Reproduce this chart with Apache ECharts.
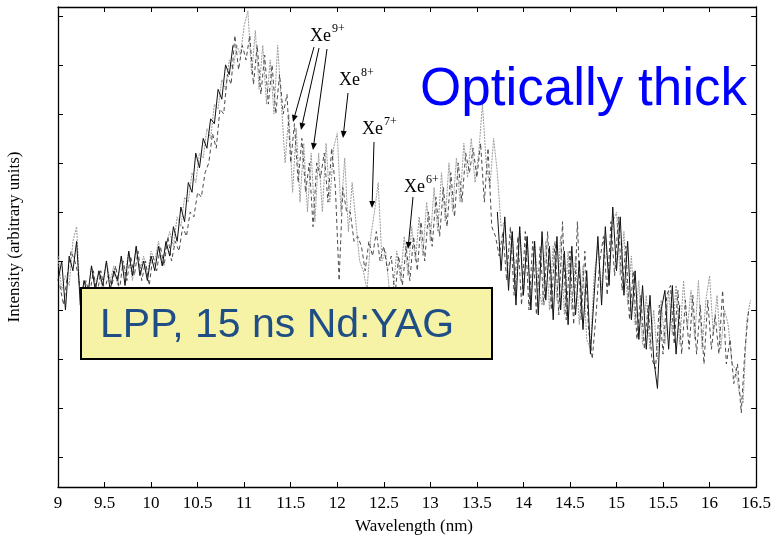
<!DOCTYPE html>
<html>
<head>
<meta charset="utf-8">
<script src="https://cdn.jsdelivr.net/npm/echarts@6/dist/echarts.min.js"></script>
<style>
  html, body { margin: 0; padding: 0; background: #fff; }
  #chart { width: 774px; height: 540px; }
</style>
</head>
<body>
<div id="chart"></div>
<script>
// Xe emission spectra, intensity in arbitrary units vs. wavelength (nm)
const WL_STEP = 0.04;

// black trace, two visible stretches
const blackStartA = 9.00;
const blackA = [
  36,40,30,41,38,44,31,36,33,39,34,38,35,40,34,38,36,41,35,42,
  37,43,37,40,36,41,38,43,39,44,41,47,44,51,48,56,54,62,59,65,
  63,69,68,75,73,80,78,84
];
const blackStartB = 13.72;
const blackB = [
  50,38,49,34,46,31,47,33,45,30,44,29,46,32,43,28,45,30,42,27,
  43,29,40,26,38,21,33,45,31,47,35,51,38,49,33,44,28,38,24,35,
  22,33,20,14,30,34,22,35,21,31
];

// dark grey dashed trace
const dashStart = 9.02;
const dashed = [
  35,31,37,42,40,37,30,36,33,38,
  33,38,34,37,35,39,34,40,36,41,
  37,42,36,40,35,41,38,43,39,45,
  40,44,42,47,45,50,49,54,53,58,
  60,66,63,71,70,78,76,86,79,84,
  81,86,76,84,74,82,72,80,70,78,
  70,74,60,68,56,65,54,60,47,60,
  57,62,52,63,55,36,55,50,50,44,
  45,43,38,44,41,46,40,43,38,41,
  33,41,35,43,36,45,38,48,40,50,
  43,53,45,55,47,58,49,60,52,62,
  58,63,57,64,52,63,47,45,41,46,
  36,47,33,45,31,46,30,44,29,43,
  31,46,30,44,29,48,28,42,27,48,
  28,42,26,20,29,40,45,33,48,37,
  49,34,43,28,38,24,33,22,31,20,
  18,31,21,33,35,23,34,21,32,22,
  33,21,31,19,32,22,29,21,34,19,
  24,15,19,9,22,30
];

// light grey trace
const grayStart = 9.00;
const gray = [
  41,34,37,35,44,47,31,36,33,39,
  35,38,34,40,36,39,35,41,37,42,
  36,43,38,41,37,42,40,44,39,43,
  46,43,49,47,53,52,58,56,62,61,
  67,65,72,71,77,75,81,79,84,82,
  88,91,78,87,75,84,72,81,70,84,
  72,60,70,54,67,52,64,50,62,48,
  62,50,64,52,63,66,50,61,46,56,
  48,40,38,34,45,50,56,40,42,34,
  34,42,36,45,37,47,40,49,41,52,
  44,55,46,58,48,60,50,61,52,64,
  57,65,56,62,72,60,55,65,58,47,
  48,36,46,34,47,33,45,32,44,35,
  31,44,30,43,32,45,29,42,30,41,
  27,39,24,22,37,43,34,45,36,48,
  50,37,46,31,41,27,36,23,33,22,
  30,20,32,23,34,25,35,23,36,26,
  34,24,36,22,32,37,25,33,22,30,
  27,19,18,13,11,28,32
];

const yTicks = [0, 10, 20, 30, 40, 50, 60, 70, 80, 90];

function pairs(start, vals) {
  return vals.map((v, i) => [Math.round((start + i * WL_STEP) * 1000) / 1000, v]);
}

const chart = echarts.init(document.getElementById('chart'), null, { renderer: 'canvas' });

const serif = '"Liberation Serif", "Times New Roman", serif';
const sans = '"Liberation Sans", Arial, sans-serif';

function traceSeries(data, color, type, z) {
  return {
    type: 'line',
    data: data,
    xAxisIndex: 0,
    yAxisIndex: 0,
    showSymbol: false,
    symbol: 'none',
    sampling: null,
    silent: true,
    z: z,
    lineStyle: { color: color, width: 1, type: type }
  };
}

// annotation arrows: [x1, y1, x2, y2] in pixels, tip at (x2, y2)
const arrows = [
  [314, 47, 293, 122],
  [319, 48, 301, 130],
  [327, 49, 313, 150],
  [348, 93, 343, 138],
  [374, 142, 372, 208],
  [413, 197, 408, 249]
];

const ionLabels = [
  { x: 310, y: 42, sup: '9+' },
  { x: 339, y: 86, sup: '8+' },
  { x: 362, y: 135, sup: '7+' },
  { x: 404, y: 193, sup: '6+' }
];

const graphics = [];
arrows.forEach(a => {
  const [x1, y1, x2, y2] = a;
  const dx = x2 - x1, dy = y2 - y1;
  const len = Math.sqrt(dx * dx + dy * dy);
  const ux = dx / len, uy = dy / len;
  const hl = 7, hw = 3;
  const bx = x2 - ux * hl, by = y2 - uy * hl;
  graphics.push({
    type: 'line', silent: true, z: 50,
    shape: { x1: x1, y1: y1, x2: bx, y2: by },
    style: { stroke: '#000', lineWidth: 1 }
  });
  graphics.push({
    type: 'polygon', silent: true, z: 50,
    shape: { points: [[x2, y2], [bx - uy * hw, by + ux * hw], [bx + uy * hw, by - ux * hw]] },
    style: { fill: '#000' }
  });
});
ionLabels.forEach(l => {
  graphics.push({
    type: 'text', silent: true, z: 50, x: l.x, y: l.y - 6,
    style: { text: 'Xe', font: '18px ' + serif, fill: '#000', align: 'left', verticalAlign: 'middle' }
  });
  graphics.push({
    type: 'text', silent: true, z: 50, x: l.x + 22, y: l.y - 13,
    style: { text: l.sup, font: '12px ' + serif, fill: '#000', align: 'left', verticalAlign: 'middle' }
  });
});

graphics.push({
  type: 'text', silent: true, z: 60, x: 420, y: 90,
  style: { text: 'Optically thick', font: '53px ' + sans, fill: '#0000ff', align: 'left', verticalAlign: 'middle' }
});
graphics.push({
  type: 'rect', silent: true, z: 60,
  shape: { x: 81, y: 288, width: 411, height: 71 },
  style: { fill: '#f6f2a6', stroke: '#000', lineWidth: 2 }
});
graphics.push({
  type: 'text', silent: true, z: 61, x: 100, y: 326,
  style: { text: 'LPP, 15 ns Nd:YAG', font: '41px ' + sans, fill: '#1f4e87', align: 'left', verticalAlign: 'middle' }
});
graphics.push({
  type: 'text', silent: true, z: 60, x: 15, y: 237, rotation: Math.PI / 2,
  style: { text: 'Intensity (arbitrary units)', font: '17px ' + serif, fill: '#000', align: 'center', verticalAlign: 'middle' }
});
graphics.push({
  type: 'text', silent: true, z: 60, x: 414, y: 527,
  style: { text: 'Wavelength (nm)', font: '17px ' + serif, fill: '#000', align: 'center', verticalAlign: 'middle' }
});

const axisLine = { show: true, onZero: false, lineStyle: { color: '#000', width: 1.3 } };

const option = {
  animation: false,
  backgroundColor: '#fff',
  grid: { left: 58, right: 15, top: 7, bottom: 53, containLabel: false },
  xAxis: [
    {
      type: 'value', position: 'bottom', min: 9, max: 16.5, interval: 0.5,
      axisLine: axisLine,
      axisTick: { show: true, inside: true, length: 5, lineStyle: { color: '#000', width: 1 } },
      axisLabel: { show: true, color: '#000', fontFamily: serif, fontSize: 17, margin: 8 },
      splitLine: { show: false }
    },
    {
      type: 'value', position: 'top', min: 9, max: 16.5, interval: 0.5,
      axisLine: axisLine,
      axisTick: { show: true, inside: true, length: 5, lineStyle: { color: '#000', width: 1 } },
      axisLabel: { show: false },
      splitLine: { show: false }
    }
  ],
  yAxis: [
    {
      type: 'value', position: 'left', min: -6.1, max: 91.8,
      axisLine: axisLine,
      axisTick: { show: true, inside: true, length: 5, customValues: yTicks, lineStyle: { color: '#000', width: 1 } },
      axisLabel: { show: false },
      splitLine: { show: false }
    },
    {
      type: 'value', position: 'right', min: -6.1, max: 91.8,
      axisLine: axisLine,
      axisTick: { show: true, inside: true, length: 5, customValues: yTicks, lineStyle: { color: '#000', width: 1 } },
      axisLabel: { show: false },
      splitLine: { show: false }
    }
  ],
  series: [
    traceSeries(pairs(grayStart, gray), '#9c9c9c', [2, 1], 2),
    traceSeries(pairs(dashStart, dashed), '#4a4a4a', [4, 3], 3),
    traceSeries(pairs(blackStartA, blackA), '#111', 'solid', 4),
    traceSeries(pairs(blackStartB, blackB), '#111', 'solid', 4)
  ],
  graphic: graphics
};

chart.setOption(option);
</script>
</body>
</html>
